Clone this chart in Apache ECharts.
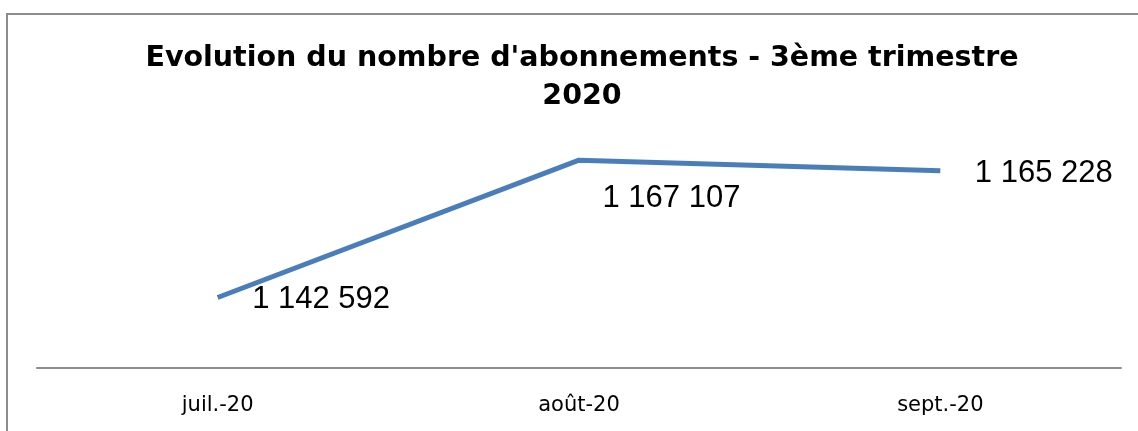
<!DOCTYPE html>
<html>
<head>
<meta charset="utf-8">
<script src="https://cdn.jsdelivr.net/npm/echarts@6/dist/echarts.min.js"></script>
<style>
  html, body { margin: 0; padding: 0; background: #fff; }
  #chart { width: 1138px; height: 431px; }
</style>
</head>
<body>
<div id="chart"></div>
<script>
// données
var mois = ['juil.-20', 'août-20', 'sept.-20'];
var abonnements = [1142592, 1167107, 1165228];

// position des étiquettes (comme dans Excel)
var labelPos = [
  { position: 'right', offset: [29, 2] },
  { position: 'right', offset: [18, 38] },
  { position: 'right', offset: [29, 3] }
];

var chart = echarts.init(document.getElementById('chart'));

function fmt(v) {
  return String(v).replace(/\B(?=(\d{3})+(?!\d))/g, ' ');
}

var data = abonnements.map(function (v, i) {
  return {
    value: v,
    label: labelPos[i]
  };
});

var option = {
  animation: false,
  backgroundColor: '#fff',
  title: {
    text: "Evolution du nombre d'abonnements - 3ème trimestre\n2020",
    left: 577,
    textAlign: 'center',
    top: 35,
    textStyle: {
      fontFamily: 'DejaVu Sans',
      fontWeight: 'bold',
      fontSize: 28.5,
      lineHeight: 38,
      color: '#000'
    }
  },
  graphic: [{
    type: 'rect',
    shape: { x: 7, y: 14, width: 1140, height: 430 },
    style: { fill: 'none', stroke: '#8c8c8c', lineWidth: 2 },
    silent: true
  }],
  grid: { left: 37, right: 17, top: 144, bottom: 63 },
  xAxis: {
    type: 'category',
    data: mois,
    boundaryGap: true,
    axisLine: { lineStyle: { color: '#8c8c8c', width: 2 } },
    axisTick: { show: false },
    axisLabel: {
      color: '#000',
      fontFamily: 'DejaVu Sans',
      fontSize: 21,
      margin: 27
    }
  },
  yAxis: {
    type: 'value',
    min: 1130000,
    max: 1170000,
    interval: 10000,
    show: false,
    splitLine: { show: false }
  },
  series: [{
    type: 'line',
    data: data,
    symbol: 'circle',
    symbolSize: 1,
    showSymbol: true,
    itemStyle: { color: 'rgba(0,0,0,0)' },
    lineStyle: { color: '#4a7ebb', width: 5 },
    label: {
      show: true,
      color: '#000',
      fontFamily: 'Liberation Sans',
      fontSize: 31,
      formatter: function (p) { return fmt(p.value); }
    }
  }]
};

chart.setOption(option);
</script>
</body>
</html>
